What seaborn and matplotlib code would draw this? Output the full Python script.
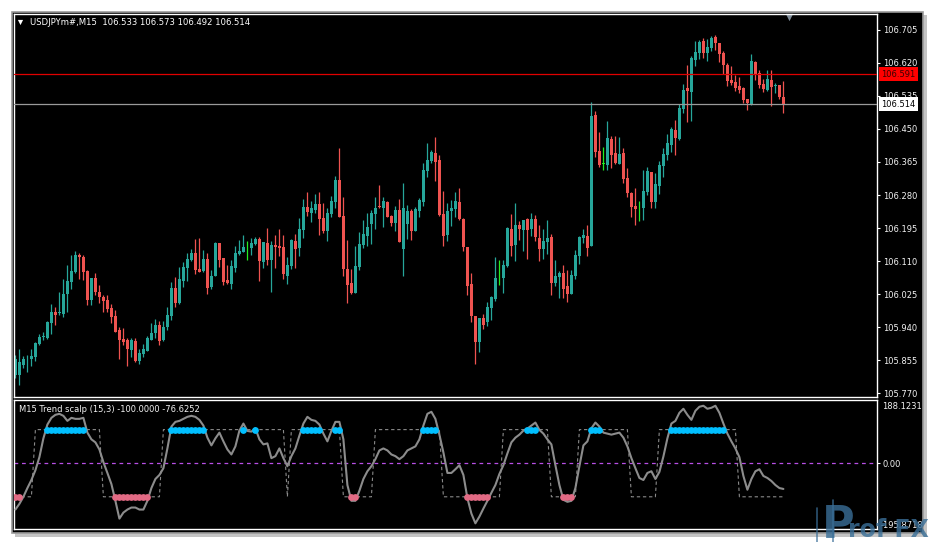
# ===================== IMPORTS =====================
import numpy as np
import pandas as pd
import seaborn as sns
import matplotlib.pyplot as plt
from matplotlib.patches import Rectangle
from matplotlib.lines import Line2D
from matplotlib.transforms import blended_transform_factory

sns.set_style("dark", {"axes.facecolor": "black", "figure.facecolor": "white",
                       "axes.edgecolor": "white", "axes.grid": False})
plt.rcParams['font.family'] = ['DejaVu Sans']

# ===================== DATA (USDJPY M15) =====================
opens = [
    105.816, 105.816, 105.842, 105.857, 105.857, 105.862, 105.896, 105.914, 105.911, 105.950,
    105.980, 105.975, 105.973, 106.025, 106.056, 106.082, 106.125, 106.120, 106.084, 106.009,
    106.066, 106.030, 106.017, 106.009, 105.988, 105.968, 105.932, 105.909, 105.906, 105.880,
    105.904, 105.852, 105.870, 105.878, 105.906, 105.924, 105.945, 105.906, 105.940, 105.968,
    106.040, 106.001, 106.058, 106.092, 106.112, 106.130, 106.089, 106.084, 106.115, 106.043,
    106.071, 106.156, 106.117, 106.061, 106.051, 106.092, 106.128, 106.133, 106.146, 106.143,
    106.153, 106.166, 106.107, 106.156, 106.112, 106.151, 106.148, 106.146, 106.071, 106.097,
    106.161, 106.143, 106.190, 106.249, 106.233, 106.241, 106.256, 106.220, 106.187, 106.231,
    106.262, 106.318, 106.226, 106.089, 106.053, 106.027, 106.094, 106.151, 106.174, 106.205,
    106.231, 106.251, 106.246, 106.262, 106.226, 106.208, 106.241, 106.140, 106.205, 106.238,
    106.187, 106.238, 106.262, 106.341, 106.367, 106.388, 106.370, 106.231, 106.177, 106.238,
    106.244, 106.262, 106.218, 106.146, 106.051, 105.968, 105.901, 105.963, 105.953, 105.988,
    106.012, 106.066, 106.066, 106.097, 106.192, 106.151, 106.203, 106.190, 106.218, 106.192,
    106.218, 106.169, 106.140, 106.159, 106.172, 106.053, 106.069, 106.079, 106.045, 106.025,
    106.071, 106.123, 106.169, 106.174, 106.148, 106.486, 106.393, 106.360, 106.357, 106.424,
    106.388, 106.360, 106.388, 106.323, 106.285, 106.251, 106.249, 106.246, 106.287, 106.339,
    106.262, 106.303, 106.354, 106.383, 106.409, 106.447, 106.424, 106.501, 106.555, 106.545,
    106.627, 106.645, 106.676, 106.645, 106.658, 106.687, 106.671, 106.645, 106.615, 106.576,
    106.571, 106.560, 106.555, 106.527, 106.514, 106.622, 106.594, 106.566, 106.550, 106.576,
    106.561, 106.563, 106.533,
]
highs = [
    105.867, 105.883, 105.865, 105.867, 105.883, 105.901, 105.922, 105.927, 105.955, 105.999,
    105.991, 106.030, 106.064, 106.099, 106.125, 106.135, 106.130, 106.125, 106.087, 106.066,
    106.079, 106.048, 106.022, 106.022, 105.999, 105.983, 105.940, 105.937, 105.911, 105.911,
    105.911, 105.883, 105.896, 105.917, 105.950, 105.960, 105.955, 105.955, 105.991, 106.056,
    106.069, 106.094, 106.107, 106.130, 106.140, 106.166, 106.169, 106.138, 106.130, 106.087,
    106.159, 106.156, 106.117, 106.099, 106.112, 106.148, 106.164, 106.177, 106.161, 106.169,
    106.172, 106.172, 106.159, 106.195, 106.161, 106.177, 106.192, 106.177, 106.120, 106.166,
    106.179, 106.220, 106.269, 106.287, 106.264, 106.282, 106.287, 106.259, 106.246, 106.277,
    106.329, 106.401, 106.274, 106.164, 106.089, 106.148, 106.184, 106.215, 106.233, 106.241,
    106.274, 106.305, 106.274, 106.264, 106.228, 106.251, 106.269, 106.311, 106.254, 106.244,
    106.249, 106.272, 106.362, 106.414, 106.396, 106.429, 106.383, 106.290, 106.259, 106.267,
    106.287, 106.298, 106.220, 106.146, 106.079, 105.968, 105.963, 105.973, 106.004, 106.019,
    106.120, 106.112, 106.112, 106.197, 106.231, 106.259, 106.213, 106.215, 106.220, 106.233,
    106.228, 106.203, 106.192, 106.215, 106.179, 106.112, 106.084, 106.099, 106.087, 106.087,
    106.138, 106.174, 106.192, 106.203, 106.519, 106.496, 106.442, 106.403, 106.470, 106.432,
    106.432, 106.429, 106.401, 106.349, 106.287, 106.298, 106.264, 106.344, 106.352, 106.339,
    106.336, 106.367, 106.401, 106.437, 106.455, 106.473, 106.514, 106.566, 106.615, 106.638,
    106.676, 106.679, 106.684, 106.681, 106.689, 106.692, 106.671, 106.651, 106.620, 106.612,
    106.589, 106.584, 106.558, 106.527, 106.643, 106.625, 106.602, 106.579, 106.602, 106.602,
    106.568, 106.563, 106.573,
]
lows = [
    105.808, 105.790, 105.834, 105.824, 105.840, 105.852, 105.893, 105.906, 105.909, 105.922,
    105.945, 105.970, 105.965, 105.978, 106.038, 106.079, 106.064, 106.061, 105.996, 105.996,
    106.022, 106.001, 105.978, 105.980, 105.950, 105.927, 105.857, 105.893, 105.840, 105.862,
    105.850, 105.845, 105.862, 105.878, 105.906, 105.911, 105.893, 105.904, 105.932, 105.958,
    105.991, 105.999, 106.043, 106.058, 106.110, 106.076, 106.082, 106.082, 106.025, 106.038,
    106.071, 106.094, 106.048, 106.051, 106.038, 106.082, 106.125, 106.133, 106.112, 106.125,
    106.151, 106.058, 106.092, 106.099, 106.030, 106.092, 106.123, 106.064, 106.051, 106.089,
    106.092, 106.123, 106.169, 106.226, 106.210, 106.233, 106.177, 106.182, 106.161, 106.223,
    106.246, 106.223, 106.071, 106.001, 106.025, 106.027, 106.087, 106.143, 106.148, 106.153,
    106.192, 106.246, 106.197, 106.223, 106.200, 106.187, 106.159, 106.071, 106.166, 106.164,
    106.187, 106.223, 106.251, 106.326, 106.362, 106.316, 106.226, 106.148, 106.161, 106.200,
    106.223, 106.215, 106.135, 106.022, 105.953, 105.845, 105.875, 105.935, 105.942, 105.958,
    106.006, 106.048, 106.027, 106.094, 106.123, 106.110, 106.164, 106.135, 106.115, 106.174,
    106.161, 106.110, 106.115, 106.128, 106.022, 106.045, 106.014, 106.014, 106.004, 106.025,
    106.064, 106.102, 106.156, 106.123, 106.148, 106.378, 106.352, 106.344, 106.344, 106.349,
    106.360, 106.360, 106.311, 106.274, 106.223, 106.203, 106.213, 106.215, 106.280, 106.246,
    106.246, 106.282, 106.326, 106.370, 106.390, 106.383, 106.421, 106.491, 106.468, 106.470,
    106.612, 106.630, 106.633, 106.625, 106.650, 106.653, 106.622, 106.591, 106.560, 106.563,
    106.548, 106.542, 106.517, 106.499, 106.512, 106.576, 106.555, 106.545, 106.548, 106.509,
    106.542, 106.527, 106.492,
]
closes = [
    105.859, 105.850, 105.857, 105.859, 105.865, 105.898, 105.914, 105.917, 105.953, 105.980,
    105.970, 105.978, 106.025, 106.058, 106.084, 106.125, 106.120, 106.082, 106.009, 106.066,
    106.030, 106.017, 106.006, 105.986, 105.965, 105.927, 105.906, 105.901, 105.883, 105.906,
    105.852, 105.872, 105.883, 105.911, 105.924, 105.945, 105.904, 105.940, 105.970, 106.040,
    106.001, 106.064, 106.094, 106.115, 106.130, 106.087, 106.082, 106.115, 106.040, 106.071,
    106.156, 106.112, 106.056, 106.053, 106.097, 106.130, 106.135, 106.146, 106.146, 106.156,
    106.166, 106.110, 106.159, 106.112, 106.151, 106.146, 106.143, 106.076, 106.099, 106.164,
    106.140, 106.192, 106.249, 106.236, 106.246, 106.256, 106.218, 106.187, 106.233, 106.264,
    106.318, 106.223, 106.089, 106.048, 106.027, 106.097, 106.153, 106.179, 106.197, 106.233,
    106.246, 106.249, 106.264, 106.223, 106.208, 106.241, 106.159, 106.246, 106.238, 106.187,
    106.244, 106.267, 106.344, 106.370, 106.390, 106.365, 106.228, 106.174, 106.238, 106.246,
    106.264, 106.218, 106.146, 106.045, 105.968, 105.901, 105.963, 105.945, 105.991, 106.017,
    106.066, 106.066, 106.099, 106.195, 106.148, 106.203, 106.192, 106.215, 106.190, 106.218,
    106.172, 106.140, 106.161, 106.169, 106.053, 106.071, 106.079, 106.038, 106.025, 106.074,
    106.125, 106.172, 106.177, 106.143, 106.483, 106.390, 106.357, 106.360, 106.427, 106.383,
    106.362, 106.385, 106.321, 106.285, 106.249, 106.244, 106.249, 106.290, 106.341, 106.262,
    106.308, 106.357, 106.385, 106.414, 106.450, 106.427, 106.504, 106.550, 106.548, 106.633,
    106.648, 106.674, 106.645, 106.661, 106.684, 106.671, 106.643, 106.615, 106.573, 106.568,
    106.555, 106.550, 106.524, 106.517, 106.625, 106.591, 106.563, 106.553, 106.579, 106.558,
    106.563, 106.532, 106.514,
]

# Trend scalp oscillator, one value per bar
trend_values = [
    -138, -121, -100, -74, -50, -21, 18, 74, 115, 135,
    144, 147, 141, 126, 135, 132, 132, 135, 91, 71,
    62, 41, 3, -29, -62, -112, -165, -147, -138, -132,
    -132, -138, -138, -112, -74, -47, -35, -15, 44, 109,
    123, 126, 132, 138, 141, 138, 129, 112, 76, 53,
    74, 91, 65, 41, 26, 50, 97, 118, 96, 94,
    104, 71, 56, 59, 15, 21, 44, 15, -9, 21,
    44, 82, 118, 138, 129, 126, 115, 88, 65, 96,
    123, 123, 71, -65, -112, -112, -82, -47, -24, -9,
    12, 38, 44, 38, 26, 21, 12, 21, 38, 44,
    50, 71, 112, 147, 153, 132, 85, 32, -29, -29,
    -18, -6, -35, -104, -150, -179, -159, -135, -112, -88,
    -65, -32, -6, 29, 62, 76, 85, 97, 103, 112,
    121, 99, 88, 71, 56, -6, -65, -109, -115, -112,
    -74, -9, 53, 65, 104, 121, 109, 91, 88, 85,
    88, 91, 76, 50, 15, -15, -44, -50, -29, -24,
    -47, -26, 20, 74, 118, 126, 150, 162, 144, 129,
    156, 168, 171, 162, 165, 171, 150, 118, 88, 65,
    44, 18, -38, -79, -47, -24, -18, -38, -44, -53,
    -65, -74, -76.6252,
]
# signal line: (level, number of bars)
signal_runs = [(-100, 5), (100, 17), (-100, 15), (100, 31), (-100, 1), (100, 13),
               (-100, 8), (100, 17), (-100, 15), (100, 12), (-100, 7), (100, 13),
               (-100, 7), (100, 20), (-100, 12)]

price_ticks = [106.705, 106.620, 106.535, 106.450, 106.365, 106.280,
               106.195, 106.110, 106.025, 105.940, 105.855, 105.770]
ask_line = 106.591
bid_line = 106.514
ind_top, ind_bottom = 188.1231, -195.8718
symbol_text = "USDJPYm#,M15  106.533 106.573 106.492 106.514"
indicator_text = "M15 Trend scalp (15,3) -100.0000 -76.6252"

df = pd.DataFrame({"open": opens, "high": highs, "low": lows,
                   "close": closes, "trend": trend_values})
df["bar"] = np.arange(len(df))
df["signal"] = np.repeat([lv for lv, n in signal_runs], [n for lv, n in signal_runs])

UP, DOWN, DOJI = "#26a69a", "#ef5350", "#22ee22"
df["color"] = np.where(df.close > df.open, UP, np.where(df.close < df.open, DOWN, DOJI))

# ===================== FIGURE / LAYOUT =====================
W, H = 936, 542
fig = plt.figure(figsize=(W / 100, H / 100), dpi=100)

def box(x0, y0, x1, y1):
    return [x0 / W, 1 - y1 / H, (x1 - x0) / W, (y1 - y0) / H]

# window shadow + black chart background
fig.patches.append(Rectangle((15 / W, 1 - 537 / H), 912 / W, 522 / H, transform=fig.transFigure,
                             fc="#c4c4c4", ec="none", zorder=-2))
fig.patches.append(Rectangle((12 / W, 1 - 533 / H), 911 / W, 521 / H, transform=fig.transFigure,
                             fc="black", ec="#9a9a9a", lw=1.2, zorder=-1))

ax = fig.add_axes(box(14, 14, 877, 397))
ax2 = fig.add_axes(box(14, 400, 877, 529))
xlim = (-0.35, 215.4)

# ===================== CANDLES =====================
body_lo = np.minimum(df.open, df.close)
body_h = np.maximum(np.abs(df.close - df.open), 0.0014)
ax.vlines(df.bar, df.low, df.high, colors=df.color, lw=0.9, zorder=2)
ax.bar(df.bar, body_h, bottom=body_lo, width=0.74, color=df.color, lw=0, zorder=2)

ax.axhline(ask_line, color="#e00000", lw=0.9, zorder=3)
ax.axhline(bid_line, color="#9a9a9a", lw=0.9, zorder=3)

ax.set_xlim(*xlim)
ax.set_ylim(105.760, 106.746)
ax.set_xticks([])
ax.yaxis.tick_right()
ax.set_yticks(price_ticks)
ax.set_yticklabels([f"{t:.3f}" for t in price_ticks])
ax.tick_params(axis="y", colors="white", labelcolor="#f2f2f2", labelsize=6,
               length=2.5, width=0.8, pad=1.8)

tr = blended_transform_factory(ax.transAxes, ax.transData)
ax.text(1.0048, ask_line, f"{ask_line:.3f}", transform=tr, fontsize=6, color="#3a0000",
        ha="left", va="center", zorder=5,
        bbox=dict(boxstyle="square,pad=0.28", fc="#ff0000", ec="none"))
ax.text(1.0048, bid_line, f"{bid_line:.3f}", transform=tr, fontsize=6, color="black",
        ha="left", va="center", zorder=5,
        bbox=dict(boxstyle="square,pad=0.28", fc="white", ec="none"))

ax.scatter([0.0072], [0.979], marker="v", s=14, color="white", transform=ax.transAxes, lw=0)
ax.text(0.0185, 0.977, symbol_text, transform=ax.transAxes, fontsize=6.1,
        color="white", ha="left", va="center")
ax.scatter([0.898], [0.991], marker="v", s=28, color="#7f8c99", transform=ax.transAxes,
           lw=0, clip_on=False)

# ===================== INDICATOR =====================
ax2.axhline(0, color="#b84fe6", lw=0.9, ls=(0, (3, 3)), zorder=1)
sns.lineplot(data=df, x="bar", y="signal", ax=ax2, color="#8a8a8a", lw=0.8,
             linestyle=(0, (3, 2.5)), zorder=2)
sns.lineplot(data=df, x="bar", y="trend", ax=ax2, color="#8c8c8c", lw=1.5, zorder=3)

hi = df[df.trend > 100]
lo = df[df.trend < -100]
sns.scatterplot(x=hi.bar, y=np.full(len(hi), 100), ax=ax2, color="#00bfff",
                s=24, linewidth=0, zorder=4)
sns.scatterplot(x=lo.bar, y=np.full(len(lo), -100), ax=ax2, color="#e26a84",
                s=24, linewidth=0, zorder=4)

ax2.set_xlim(*xlim)
ax2.set_ylim(ind_bottom, ind_top)
ax2.set_xlabel("")
ax2.set_ylabel("")
ax2.set_xticks([])
ax2.yaxis.tick_right()
ax2.set_yticks([0])
ax2.set_yticklabels(["0.00"])
ax2.tick_params(axis="y", colors="white", labelcolor="#f2f2f2", labelsize=6,
                length=2.5, width=0.8, pad=1.8)
ax2.text(1.0058, 0.946, f"{ind_top:.4f}", transform=ax2.transAxes, fontsize=6,
         color="#f2f2f2", ha="left", va="center")
ax2.text(1.0045, 0.025, f"{ind_bottom:.4f}", transform=ax2.transAxes, fontsize=6,
         color="#f2f2f2", ha="left", va="center")
ax2.text(0.0058, 0.93, indicator_text, transform=ax2.transAxes, fontsize=6,
         color="#f2f2f2", ha="left", va="center")

for a in (ax, ax2):
    for s in a.spines.values():
        s.set_color("white")
        s.set_linewidth(1)

# ===================== WATERMARK =====================
wm = "#3a6f98"
fig.add_artist(Line2D([817 / W, 817 / W], [0, 1 - 508 / H], color=wm, lw=1.2, alpha=0.75))
fig.add_artist(Line2D([833 / W, 833 / W], [0, 1 - 500 / H], color=wm, lw=1.2, alpha=0.75))
fig.text(822 / W, 1 - 538 / H, "P", fontsize=32, weight="bold", color=wm, alpha=0.8,
         va="baseline", ha="left")
fig.text(848 / W, 1 - 537 / H, "rof FX", fontsize=17, weight="bold", color=wm, alpha=0.8,
         va="baseline", ha="left")

fig.savefig("out.png", dpi=100)
